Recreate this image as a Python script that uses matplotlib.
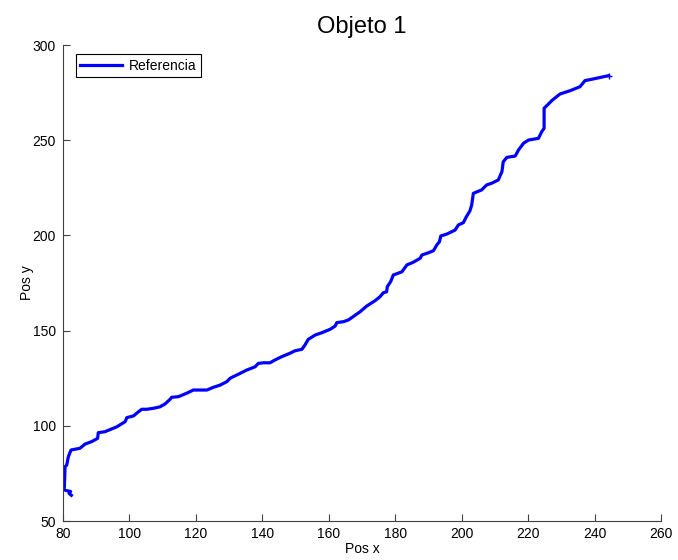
import matplotlib
matplotlib.use("Agg")
import matplotlib.pyplot as plt

# trajectory of object 1 (reference path)
pos_x = [82.5, 81.8, 82.3, 81.0, 80.2, 80.4, 80.6, 81.1, 81.6, 82.4,
         85.1, 86.6, 88.6, 90.4, 90.6, 92.6, 96.2, 98.7, 99.2, 101.2,
         102.7, 103.7, 105.2, 107.2, 109.2, 110.7, 112.2, 112.7, 114.7, 117.2,
         119.2, 123.3, 125.2, 127.3, 129.3, 130.3, 132.3, 135.3, 137.8, 138.8,
         140.3, 142.3, 143.8, 145.8, 148.3, 149.8, 151.9, 152.8, 153.8, 155.9,
         157.9, 160.4, 161.9, 162.4, 164.4, 165.9, 169.4, 171.4, 173.9, 175.4,
         176.4, 177.4, 177.6, 178.6, 179.4, 182.0, 183.5, 185.4, 187.5, 188.0,
         190.0, 191.5, 192.5, 193.3, 193.7, 195.5, 198.0, 199.0, 200.5, 201.3,
         202.5, 203.0, 203.5, 206.0, 207.5, 209.0, 211.0, 212.1, 212.5, 213.6,
         216.1, 217.1, 218.6, 220.1, 223.1, 224.1, 224.8, 224.8, 225.8, 227.1,
         229.6, 232.6, 235.6, 237.1, 239.1, 244.2]
pos_y = [63.5, 64.5, 65.5, 66.0, 66.5, 68.0, 78.5, 79.4, 83.8, 87.3,
         88.2, 90.4, 91.7, 93.4, 96.4, 96.9, 99.5, 102.2, 104.3, 105.2,
         107.4, 108.7, 108.7, 109.2, 110.0, 111.5, 113.9, 115.0, 115.3, 117.1,
         118.8, 118.8, 120.2, 121.4, 123.2, 125.0, 126.7, 129.3, 131.0, 132.8,
         133.1, 133.1, 134.6, 136.3, 138.1, 139.4, 140.2, 142.4, 145.4, 147.7,
         148.9, 150.7, 152.4, 154.2, 154.7, 155.6, 159.9, 162.9, 165.7, 167.8,
         169.9, 170.4, 173.1, 175.7, 179.2, 180.9, 184.5, 185.9, 188.0, 189.7,
         190.9, 192.0, 195.0, 196.7, 199.7, 200.7, 202.8, 205.5, 206.7, 209.5,
         213.0, 216.0, 222.1, 223.9, 226.5, 227.4, 229.1, 233.5, 238.7, 241.0,
         241.7, 244.9, 248.4, 250.1, 251.0, 254.5, 256.3, 266.8, 268.5, 270.8,
         274.3, 276.0, 278.1, 281.3, 282.0, 283.9]

plt.rcParams['font.family'] = ['Liberation Sans', 'DejaVu Sans']

fig = plt.figure(figsize=(6.78, 5.6), dpi=100)
ax = fig.add_axes([0.093, 0.0696, 0.882, 0.85])

ax.plot(pos_x, pos_y, color=(0, 0, 1), linewidth=2.3, label='Referencia')
ax.plot(pos_x[-1], pos_y[-1], marker='+', color=(0, 0, 1), markersize=4)

ax.set_xlim(80, 260)
ax.set_ylim(50, 300)
ax.set_xticks(range(80, 261, 20))
ax.set_yticks(range(50, 301, 50))

ax.spines['top'].set_visible(False)
ax.spines['right'].set_visible(False)
for s in ('left', 'bottom'):
    ax.spines[s].set_color('#404040')
    ax.spines[s].set_linewidth(0.8)
ax.tick_params(direction='in', length=5, width=0.8, color='#404040',
               labelsize=10)
ax.tick_params(axis='x', pad=4)
ax.tick_params(axis='y', pad=5)

ax.set_title('Objeto 1', fontsize=17, pad=9)
ax.set_xlabel('Pos x', fontsize=10, labelpad=1)
ax.set_ylabel('Pos y', fontsize=10, labelpad=-1)

leg = ax.legend(loc='upper left', fontsize=10, fancybox=False, framealpha=1,
                edgecolor='black', handlelength=3.0, borderpad=0.3,
                handletextpad=0.5, bbox_to_anchor=(0.01, 0.995))
leg.get_frame().set_linewidth(0.8)

fig.savefig('out.png', dpi=100)
